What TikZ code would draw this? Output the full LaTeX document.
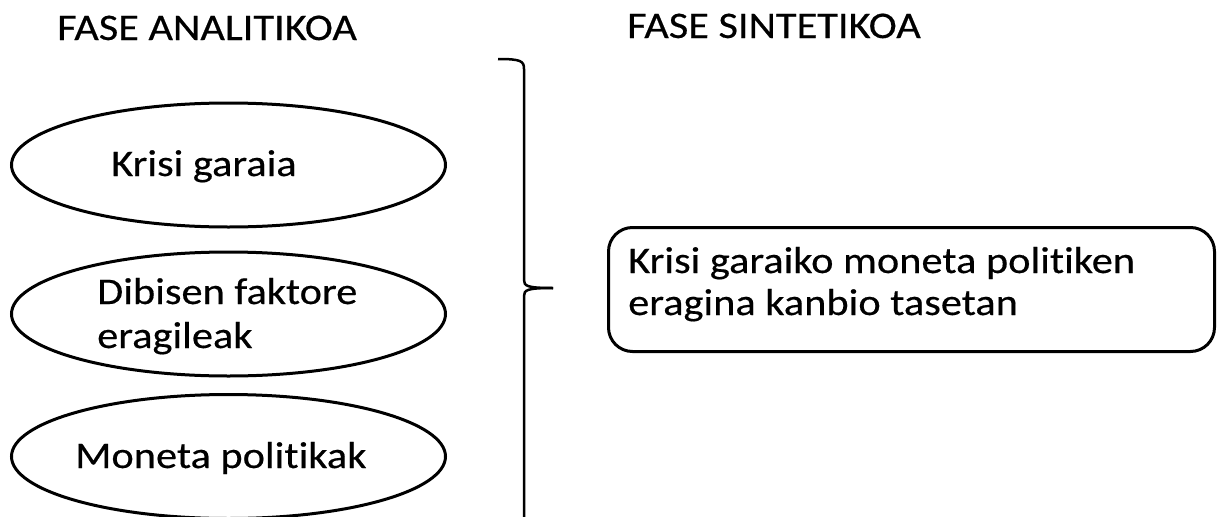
\documentclass[tikz,border=0pt]{standalone}
\usepackage{fontspec}
\setmainfont{Carlito}[FakeStretch=1.13,FakeBold=0.4,Ligatures=NoCommon]
\usetikzlibrary{shapes.geometric}
\begin{document}
\begin{tikzpicture}[x=1pt,y=-1pt,
  lbl/.style={anchor=base west,inner sep=0pt,font=\fontsize{37.5}{44}\selectfont},
  oval/.style={draw,ellipse,line width=3pt,inner sep=0pt,minimum width=434pt,minimum height=124pt},
  resultbox/.style={draw,line width=3pt,rounded corners=24pt,inner sep=0pt,minimum width=606pt,minimum height=124pt},
  brace/.style={line width=2.5pt}]
\useasboundingbox (0,0) rectangle (1219,517);
\node[lbl] (t1) at (57,40) {FASE ANALITIKOA};
\node[lbl] (t2) at (627,38) {FASE SINTETIKOA};
\node[oval] (e1) at (228.5,165) {};
\node[oval] (e2) at (228.5,314) {};
\node[oval] (e3) at (228.5,456.5) {};
\node[lbl] (k1) at (111,176) {Krisi garaia};
\node[lbl] (k2) at (97,304) {Dibisen faktore};
\node[lbl] (k3) at (97,348) {eragileak};
\node[lbl] (k4) at (75,468) {Moneta politikak};
\node[resultbox] (r) at (911.5,289.5) {};
\node[lbl] (r1) at (628,273) {Krisi garaiko moneta politiken};
\node[lbl] (r2) at (628,315) {eragina kanbio tasetan};
\draw[brace] (498,59) .. controls (521,59) and (524,61) .. (524,69) -- (524,280)
  .. controls (524,286) and (527,288) .. (553,288);
\draw[brace] (553,288) .. controls (527,288) and (524,290) .. (524,296) -- (524,530);
\end{tikzpicture}
\end{document}
